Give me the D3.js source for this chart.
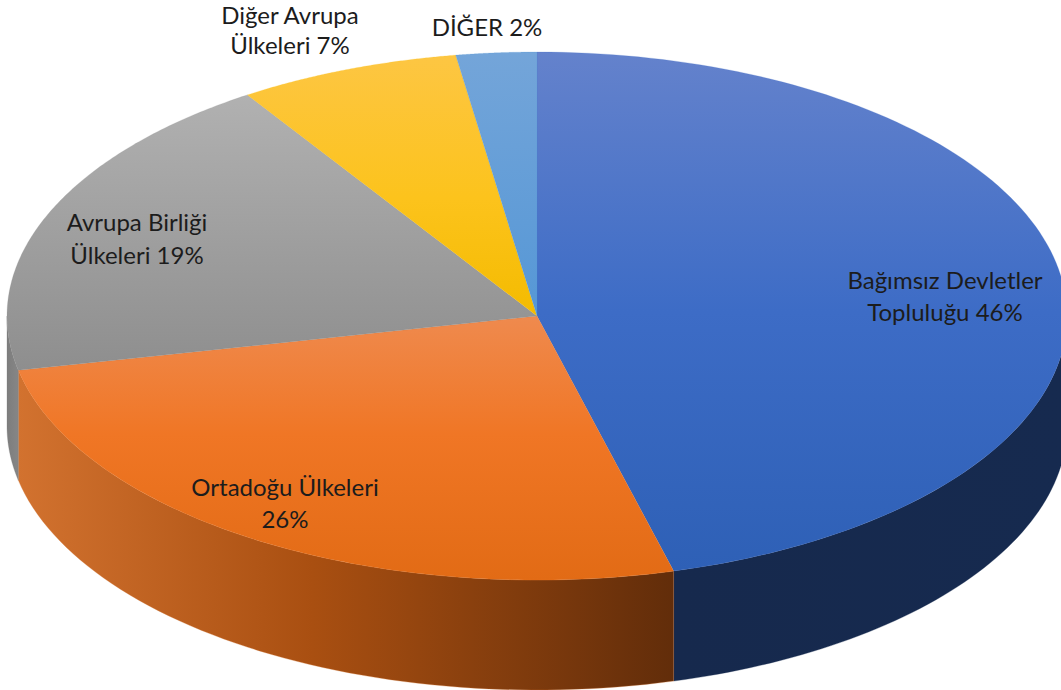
<!DOCTYPE html>
<html>
<head>
<meta charset="utf-8">
<script src="https://cdn.jsdelivr.net/npm/d3@7"></script>
<style>
  html, body { margin: 0; padding: 0; background: #fff; overflow: hidden; }
  svg { display: block; }
  text { font-family: Lato, "Open Sans", sans-serif; font-size: 24px; fill: #1c1c1c; text-anchor: middle; }
</style>
</head>
<body>
<svg width="1061" height="690"></svg>
<script>
// values (slightly finer than the printed percents)
var categories = ["Bağımsız Devletler Topluluğu", "Ortadoğu Ülkeleri", "Avrupa Birliği Ülkeleri", "Diğer Avrupa Ülkeleri", "DİĞER"];
var values = [45.85, 25.85, 19.1, 6.75, 2.45];
var labelLines = [
  ["Bağımsız Devletler", "Topluluğu 46%"],
  ["Ortadoğu Ülkeleri", "26%"],
  ["Avrupa Birliği", "Ülkeleri 19%"],
  ["Diğer Avrupa", "Ülkeleri 7%"],
  ["DİĞER 2%"]
];

// top face colours, top to bottom : [offset, colour]
var topColors = [
  [[0, "#6482cc"], [0.5, "#3d6cc6"], [1, "#2e60b6"]],
  [[0, "#ef8a4e"], [0.45, "#f07625"], [1, "#e26b15"]],
  [[0, "#b1b1b1"], [1, "#8e8e8e"]],
  [[0, "#fdc643"], [0.55, "#fcc31c"], [1, "#f4bb00"]],
  [[0, "#74a5d9"], [1, "#5597d6"]]
];
// wall colours, left to right
var wallColors = [
  [[0, "#16294d"], [1, "#162a4f"]],
  [[0, "#d2722f"], [0.45, "#a94f11"], [1, "#622d0a"]],
  [[0, "#7d7d7d"], [1, "#868686"]],
  null,
  null
];

// diagram sizes
var cx = 537, cy = 316, rx = 530, ry = 264, depth = 110;
var labelX = [945, 285, 137, 290, 487];
var labelY = [289, 496, 231, 24, 36];
var lineGaps = [32, 32, 33, 30, 0];

var svg = d3.select("svg");
var defs = svg.append("defs");

var arcs = d3.pie().sort(null).startAngle(0).endAngle(2 * Math.PI)(values);

// angle is clockwise from 12 o'clock, as in d3.pie
function px(a) { return cx + rx * Math.sin(a); }
function py(a) { return cy - ry * Math.cos(a); }

function gradient(id, stops, x1, y1, x2, y2) {
  var g = defs.append("linearGradient")
    .attr("id", id)
    .attr("gradientUnits", "userSpaceOnUse")
    .attr("x1", x1).attr("y1", y1).attr("x2", x2).attr("y2", y2);
  stops.forEach(function(s) {
    g.append("stop").attr("offset", s[0]).attr("stop-color", s[1]);
  });
}

var line = d3.line();

// the walls only show on the front half, 90 to 270 degrees
function wallPath(d) {
  var a0 = Math.max(d.startAngle, Math.PI / 2);
  var a1 = Math.min(d.endAngle, 3 * Math.PI / 2);
  var pts = d3.range(0, 61).map(function(i) { return a0 + (a1 - a0) * i / 60; });
  var topEdge = pts.map(function(a) { return [px(a), py(a)]; });
  var bottomEdge = pts.slice().reverse().map(function(a) { return [px(a), py(a) + depth]; });
  return line(topEdge.concat(bottomEdge)) + "Z";
}

var walls = arcs.filter(function(d) {
  return d.startAngle < 3 * Math.PI / 2 && d.endAngle > Math.PI / 2;
});
walls.forEach(function(d) {
  var a0 = Math.max(d.startAngle, Math.PI / 2);
  var a1 = Math.min(d.endAngle, 3 * Math.PI / 2);
  var xs = d3.range(0, 61).map(function(i) { return px(a0 + (a1 - a0) * i / 60); });
  gradient("wall" + d.index, wallColors[d.index], d3.min(xs), 0, d3.max(xs), 0);
});
svg.append("g").selectAll("path").data(walls).enter().append("path")
  .attr("d", wallPath)
  .attr("fill", function(d) { return "url(#wall" + d.index + ")"; })
  .attr("stroke", function(d) { return wallColors[d.index][0][1]; })
  .attr("stroke-width", 0.3);

// top face
function sliceBox(d) {
  var pts = [[cx, cy]];
  d3.range(0, 61).forEach(function(i) {
    var a = d.startAngle + (d.endAngle - d.startAngle) * i / 60;
    pts.push([px(a), py(a)]);
  });
  return d3.extent(pts, function(p) { return p[1]; });
}
arcs.forEach(function(d) {
  var e = sliceBox(d);
  gradient("top" + d.index, topColors[d.index], 0, e[0], 0, e[1]);
});
// the gradient has to live in page space so the squash goes on the path data
svg.append("g").selectAll("path").data(arcs).enter().append("path")
  .attr("d", function(d) {
    var pts = d3.range(0, 121).map(function(i) {
      var a = d.startAngle + (d.endAngle - d.startAngle) * i / 120;
      return [px(a), py(a)];
    });
    return line([[cx, cy]].concat(pts)) + "Z";
  })
  .attr("fill", function(d) { return "url(#top" + d.index + ")"; })
  .attr("stroke", function(d) { return topColors[d.index][1][1]; })
  .attr("stroke-width", 0.2);

// labels
var labels = svg.append("g").selectAll("text").data(arcs).enter().append("text")
  .attr("aria-label", function(d) { return categories[d.index]; })
  .attr("x", function(d) { return labelX[d.index]; })
  .attr("y", function(d) { return labelY[d.index]; });
labels.selectAll("tspan")
  .data(function(d) { return labelLines[d.index].map(function(t) { return {t: t, i: d.index}; }); })
  .enter().append("tspan")
  .attr("x", function(l) { return labelX[l.i]; })
  .attr("dy", function(l, i) { return i === 0 ? 0 : lineGaps[l.i]; })
  .text(function(l) { return l.t; });
</script>
</body>
</html>
